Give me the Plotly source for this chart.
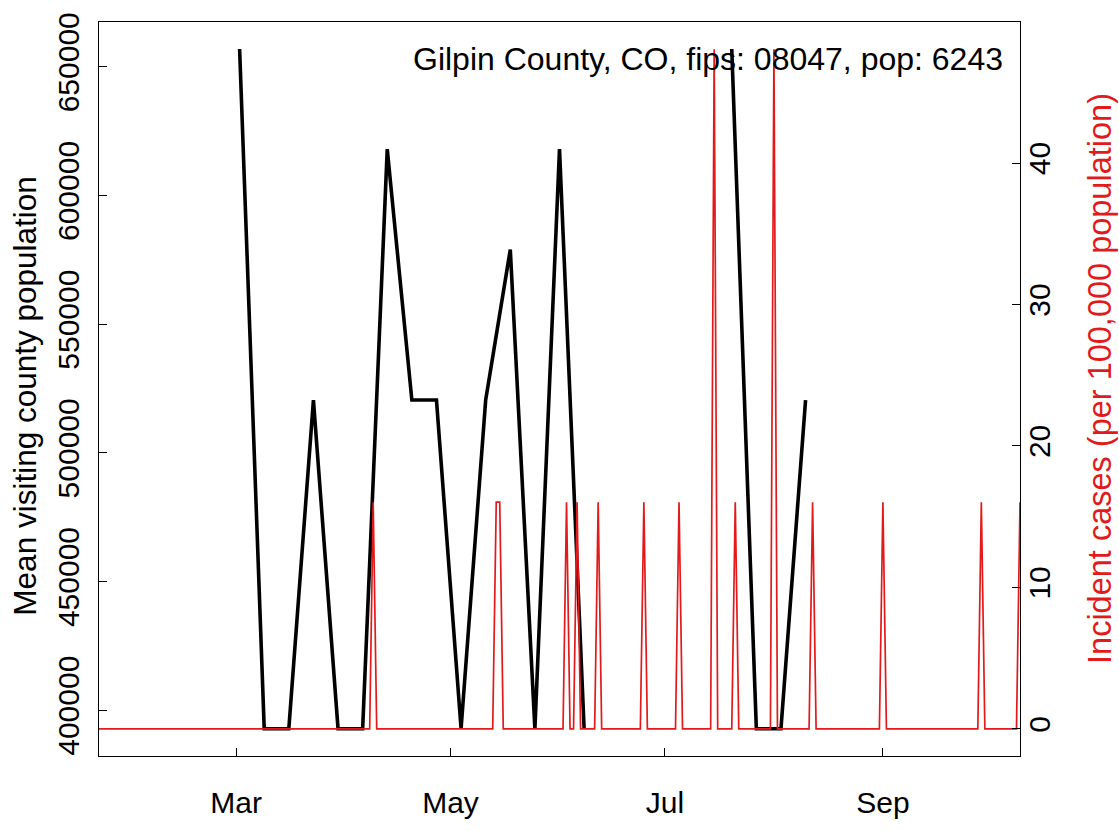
import plotly.graph_objects as go
import pandas as pd

# Weekly mean visiting county population (None = missing weeks)
visit_dates = ["2020-03-02", "2020-03-09", "2020-03-16", "2020-03-23", "2020-03-30",
               "2020-04-06", "2020-04-13", "2020-04-20", "2020-04-27", "2020-05-04",
               "2020-05-11", "2020-05-18", "2020-05-25", "2020-06-01", "2020-06-08",
               "2020-06-15", "2020-06-22", "2020-06-29", "2020-07-06", "2020-07-13",
               "2020-07-20", "2020-07-27", "2020-08-03", "2020-08-10"]
visit_pop = [656900, 392800, 392800, 520500, 392800,
             392800, 618000, 520500, 520500, 392800,
             520500, 579000, 392800, 618000, 392800,
             None, None, None, None, None,
             656900, 392800, 392800, 520500]

# Daily incident cases per 100,000 (days not listed are 0)
case_start = "2020-01-22"
case_end = "2020-10-10"
spike_dates = ["2020-04-09", "2020-05-14", "2020-05-15", "2020-06-03", "2020-06-06",
               "2020-06-12", "2020-06-25", "2020-07-05", "2020-07-15", "2020-07-21",
               "2020-08-01", "2020-08-12", "2020-09-01", "2020-09-29", "2020-10-10"]
spike_values = [16.02, 16.02, 16.02, 16.02, 16.02,
                16.02, 16.02, 16.02, 48.05, 16.02,
                48.05, 16.02, 16.02, 16.02, 16.02]

month_ticks = ["2020-03-01", "2020-05-01", "2020-07-01", "2020-09-01"]
month_labels = ["Mar", "May", "Jul", "Sep"]
left_ticks = [400000, 450000, 500000, 550000, 600000, 650000]
right_ticks = [0, 10, 20, 30, 40]

title_text = "Gilpin County, CO, fips: 08047, pop: 6243"
left_title = "Mean visiting county population"
right_title = "Incident cases (per 100,000 population)"

days = pd.date_range(case_start, case_end, freq="D")
cases = pd.Series(0.0, index=days)
for d, v in zip(spike_dates, spike_values):
    cases[pd.Timestamp(d)] = v

RED = "#E31A1C"
FONT = "Liberation Sans, Arial, Helvetica, sans-serif"

fig = go.Figure()
fig.add_trace(go.Scatter(x=visit_dates, y=visit_pop, mode="lines",
                         line=dict(color="black", width=3.6),
                         connectgaps=False, yaxis="y", showlegend=False))
fig.add_trace(go.Scatter(x=cases.index, y=cases.values, mode="lines",
                         line=dict(color=RED, width=1.7),
                         yaxis="y2", showlegend=False))

fig.update_layout(
    width=1119, height=831,
    margin=dict(l=99, r=99, t=14, b=48),
    paper_bgcolor="white", plot_bgcolor="white",
    font=dict(family=FONT, size=30, color="black"),
    xaxis=dict(range=[case_start, case_end], tickvals=month_ticks, ticktext=month_labels,
               ticks="inside", ticklen=8, tickwidth=1.3, tickcolor="black",
               showline=True, linecolor="black", linewidth=1.3, mirror=True,
               showgrid=False, zeroline=False, tickfont=dict(size=30),
               ticklabelstandoff=20, ticklabeloverflow="allow"),
    yaxis=dict(range=[382200, 667400], tickvals=left_ticks,
               ticktext=[str(v) for v in left_ticks],
               ticks="inside", ticklen=8, tickwidth=1.3, tickcolor="black",
               showline=True, linecolor="black", linewidth=1.3,
               showgrid=False, zeroline=False, tickangle=-90, tickfont=dict(size=30),
               ticklabelstandoff=7, ticklabeloverflow="allow"),
    yaxis2=dict(range=[-1.922, 49.97], tickvals=right_ticks, overlaying="y", side="right",
                ticks="inside", ticklen=8, tickwidth=1.3, tickcolor="black",
                showline=True, linecolor="black", linewidth=1.3,
                showgrid=False, zeroline=False, tickangle=-90, tickfont=dict(size=30),
                ticklabelstandoff=-7, ticklabeloverflow="allow"),
    annotations=[
        dict(text=title_text, xref="paper", yref="paper", x=0.9837, y=0.95,
             xanchor="right", yanchor="middle", showarrow=False,
             font=dict(size=32, color="black")),
        dict(text=left_title, xref="paper", yref="paper", x=-0.0803, y=0.491,
             xanchor="center", yanchor="middle", textangle=-90, showarrow=False,
             font=dict(size=31.5, color="black")),
        dict(text=right_title, xref="paper", yref="paper", x=1.0869, y=0.5137,
             xanchor="center", yanchor="middle", textangle=-90, showarrow=False,
             font=dict(size=32.5, color=RED)),
    ],
)

fig.write_html("out.html", config={"displayModeBar": False},
               post_script="document.body.style.margin='0';document.body.style.overflow='hidden';")
